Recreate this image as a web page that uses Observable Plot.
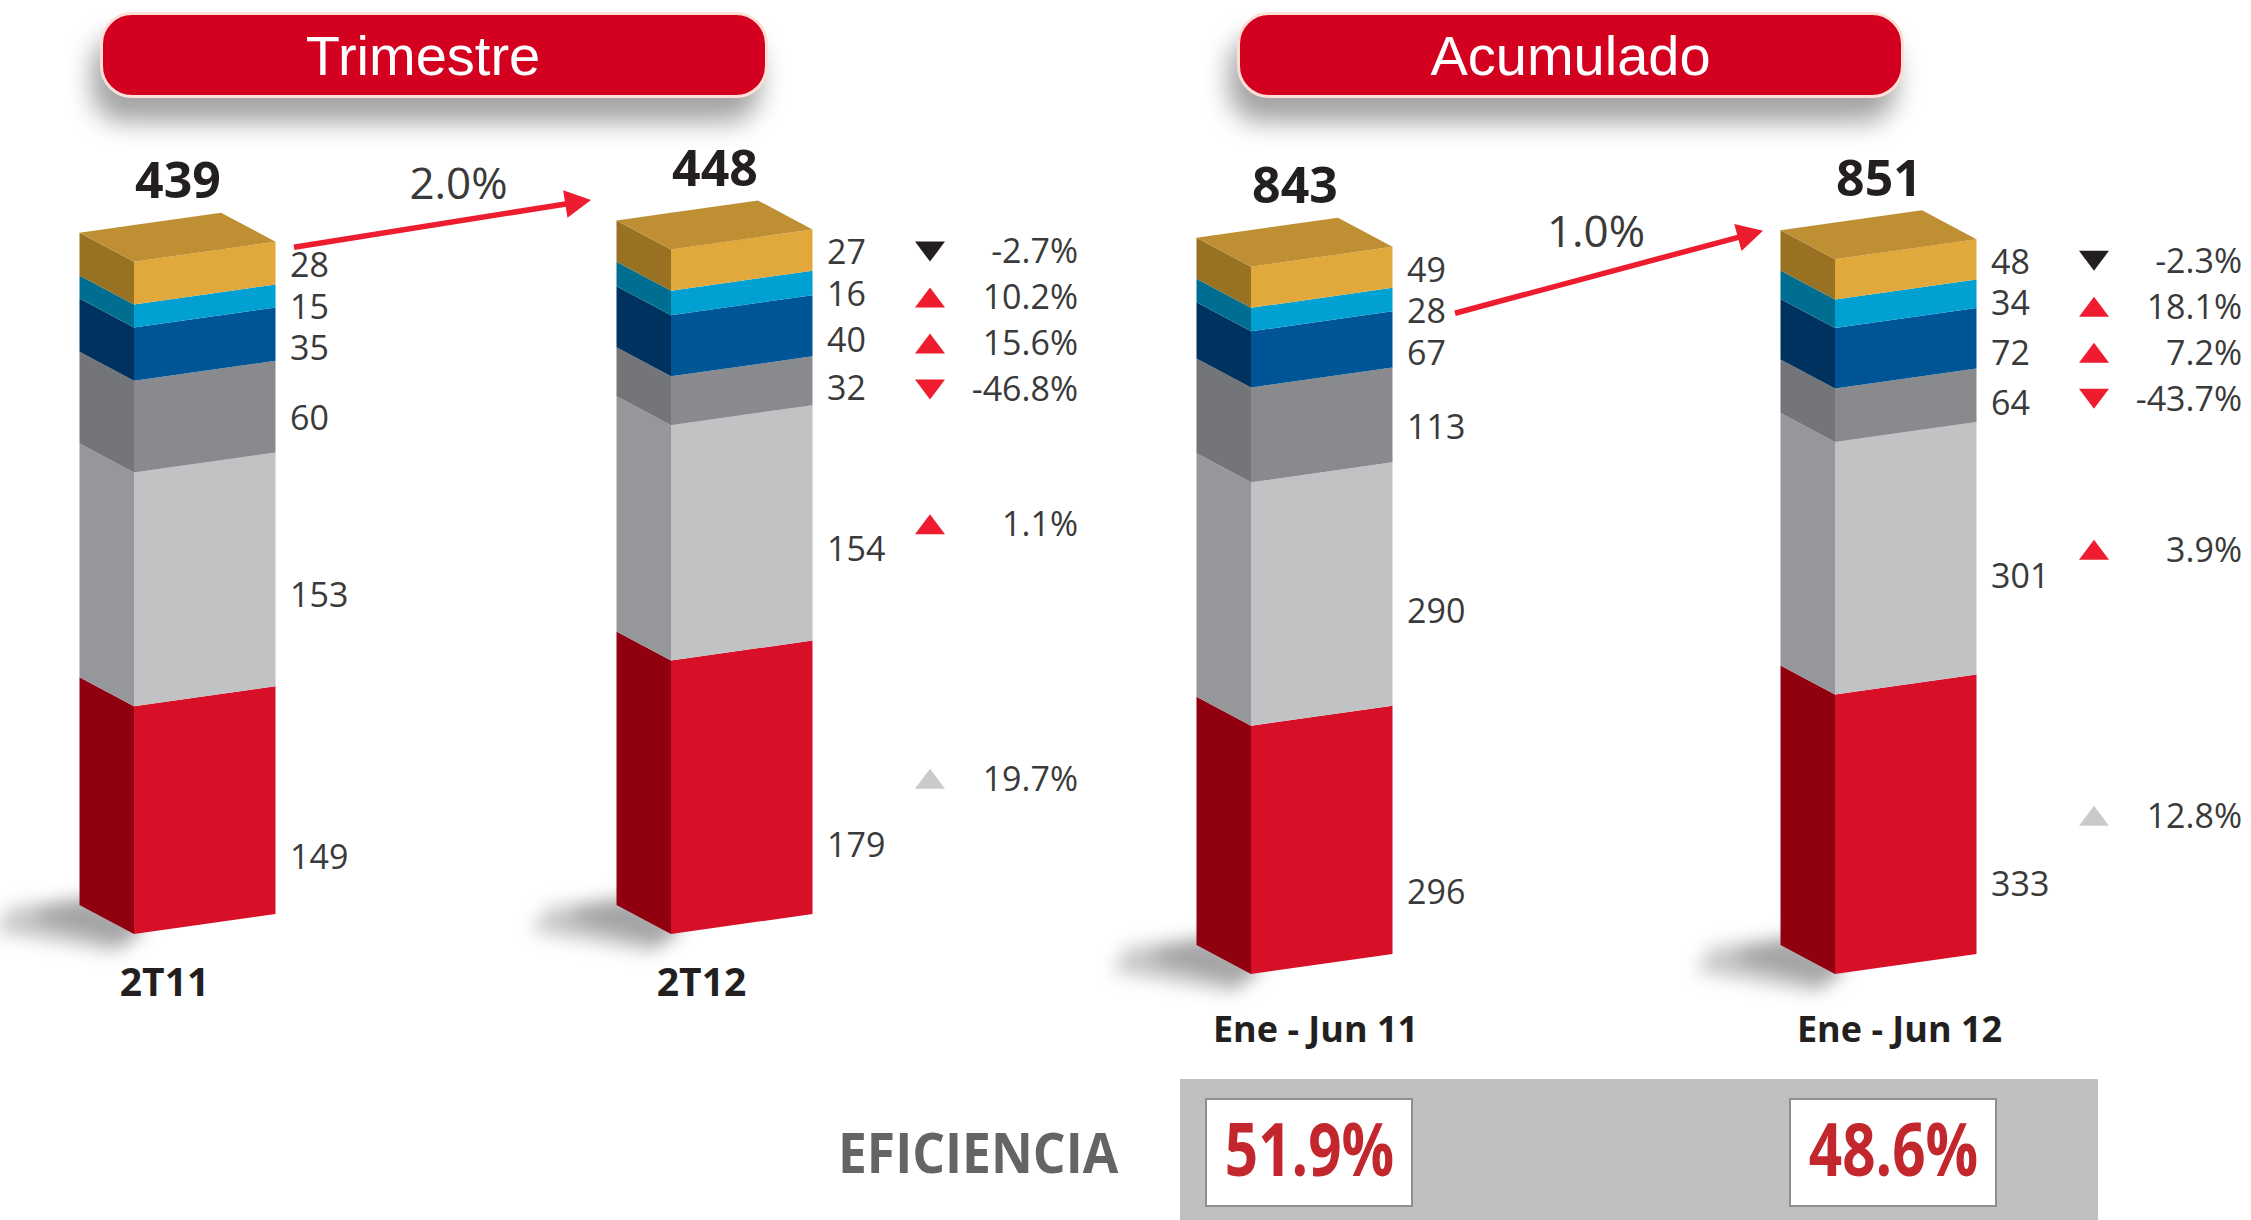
<!DOCTYPE html>
<html>
<head>
<meta charset="utf-8">
<script src="https://cdn.jsdelivr.net/npm/d3@7"></script>
<script src="https://cdn.jsdelivr.net/npm/@observablehq/plot@0.6"></script>
<style>
  html, body { margin: 0; padding: 0; background: #fff; }
  #page { position: relative; width: 2251px; height: 1220px; overflow: hidden; background: #fff; }
  .banner { position: absolute; top: 12px; height: 86px; border-radius: 32px; background: #D40020;
            border: 3px solid #fbe0d8; box-shadow: -8px 24px 26px rgba(0,0,0,0.36);
            color: #fff; font-family: "Liberation Sans", Arial, sans-serif; font-size: 56px;
            display: flex; align-items: center; justify-content: center; box-sizing: border-box; }
  #efLabel { position: absolute; left: 838px; top: 1116px; font-family: "Open Sans", sans-serif;
             font-weight: 700; font-size: 56px; line-height: 70px; color: #636466;
             transform: scaleX(0.92); transform-origin: left center; }
  .plotwrap { position: absolute; left: 0; top: 0; width: 2251px; height: 1220px; }
</style>
</head>
<body>
<div id="page">
  <div class="banner" style="left:100px; width:668px; padding-right:22px;">Trimestre</div>
  <div class="banner" style="left:1237px; width:667px;">Acumulado</div>
  <div id="efLabel">EFICIENCIA</div>
  <div id="plotA" class="plotwrap"></div>
  <div id="plotB" class="plotwrap"></div>
</div>
<script>
// ---------------- DATA (segments listed bottom → top) ----------------
const periodsQ   = ["2T11", "2T12"];
const values2T11 = [149, 153, 60, 35, 15, 28];
const values2T12 = [179, 154, 32, 40, 16, 27];
const totalsQ    = [439, 448];
const changeQ    = [19.7, 1.1, -46.8, 15.6, 10.2, -2.7];
const growthQ    = 2.0;

const periodsA    = ["Ene - Jun 11", "Ene - Jun 12"];
const valuesJun11 = [296, 290, 113, 67, 28, 49];
const valuesJun12 = [333, 301, 64, 72, 34, 48];
const totalsA     = [843, 851];
const changeA     = [12.8, 3.9, -43.7, 7.2, 18.1, -2.3];
const growthA     = 1.0;

const eficiencia = [51.9, 48.6];

// ---------------- STYLES ----------------
const FRONT = ["#D71028", "#C1C2C4", "#898A8D", "#005596", "#00A0D2", "#E1A83C"];
const SIDE  = ["#91000F", "#96979B", "#747578", "#00325F", "#006E91", "#987122"];
const TOP   = ["#B00A20", "#D5D6D8", "#A0A1A4", "#1A6AA8", "#3BB4DD", "#BF9033"];
const TRI   = ["#C9CACC", "#EE1C2E", "#EE1C2E", "#EE1C2E", "#EE1C2E", "#231F20"];
const LABEL_FRAC = [0.26, 0.4, 0.4, 0.3, 0.3, 0.5];   // where a value label sits inside its segment
const ARROW = "#ED1C2E";
const SHADOW = "#555556";
const EFF_RED = "#C1272D";
const GEO = {front: 141.5, side: 54.5, dSide: 29, dFront: 20}; // px of the 3D box
const FONT = "Open Sans";

const UP   = {draw(ctx) { ctx.moveTo(0, -10); ctx.lineTo(15, 10); ctx.lineTo(-15, 10); ctx.closePath(); }};
const DOWN = {draw(ctx) { ctx.moveTo(0, 10); ctx.lineTo(15, -10); ctx.lineTo(-15, -10); ctx.closePath(); }};

function render(cfg) {
  const {periods, series, totals, change, growth, eff, L} = cfg;
  const spanPx = L.xr[1] - L.xr[0];
  const ux = px => px / spanPx, uy = px => px / L.ppu;
  const yOfPx = px => (L.base - px) / L.ppu;
  const W = ux(GEO.front), S = ux(GEO.side), dS = uy(GEO.dSide), dF = uy(GEO.dFront);

  const faces = [], tops = [], shadows = [], vLabels = [], totLabels = [], catLabels = [], cums = [];
  series.forEach((vals, i) => {
    const xs0 = i - S, xf0 = i, xf1 = i + W;
    const c = []; let cum = 0;
    vals.forEach((v, j) => {
      const b = cum, t = cum + v; cum = t; c.push(b);
      faces.push({k: `s${i}-${j}`, x: xs0, y1: b + dS, y2: t + dS, fill: SIDE[j]},
                 {k: `s${i}-${j}`, x: xf0, y1: b, y2: t, fill: SIDE[j]},
                 {k: `f${i}-${j}`, x: xf0, y1: b, y2: t, fill: FRONT[j]},
                 {k: `f${i}-${j}`, x: xf1, y1: b + dF, y2: t + dF, fill: FRONT[j]});
    });
    cums.push(c);
    const T = cum, tf = TOP[vals.length - 1];
    tops.push({k: `t${i}`, x: xs0, y1: T + dS, y2: T + dS, fill: tf},
              {k: `t${i}`, x: xf0, y1: T, y2: T + dS + dF * S / W, fill: tf},
              {k: `t${i}`, x: xs0 + W, y1: T + dF * (W - S) / W, y2: T + dS + dF, fill: tf},
              {k: `t${i}`, x: xf1, y1: T + dF, y2: T + dF, fill: tf});
    // two nested soft shadow layers (outer faint, inner darker)
    [[1.0, "o"], [0.55, "i"]].forEach(([s, tag]) => {
      shadows.push({k: `sh${i}${tag}`, x: xs0 + ux(8), y: dS + uy(8)},
                   {k: `sh${i}${tag}`, x: xf0 + ux(12), y: uy(8)},
                   {k: `sh${i}${tag}`, x: xf0 - ux(18 * s), y: -uy(18 * s)},
                   {k: `sh${i}${tag}`, x: xs0 - ux(85 * s), y: dS - uy(26 * s)},
                   {k: `sh${i}${tag}`, x: xs0 - ux(70 * s), y: dS - uy(2)});
    });
    let prev = Infinity;
    for (let j = vals.length - 1; j >= 0; j--) {
      const b = c[j], v = vals[j];
      const anchor = b + LABEL_FRAC[j] * v + dF;
      const y = Math.min(anchor, prev - uy(41.5));
      prev = y;
      vLabels.push({x: xf1 + ux(14), y, text: String(v)});
    }
    totLabels.push({x: i + (W - S) / 2, y: T + dS + dF + uy(15), text: String(totals[i])});
    catLabels.push({x: i + ux(L.catDx), y: 0, text: periods[i]});
  });

  // change column (rows follow the later bar's segments)
  const later = series[1], cl = cums[1], rows = [];
  let prev = Infinity;
  for (let j = later.length - 1; j >= 0; j--) {
    const y = Math.min(cl[j] + later[j] / 2 + dF, prev - uy(46)); prev = y;
    rows.push({tx: 1 + W + ux(117), lx: 1 + W + ux(265), y, v: change[j], fill: TRI[j]});
  }

  // growth arrow between the two bar tops
  const T0 = d3.sum(series[0]), T1 = d3.sum(series[1]);
  const sx = W + ux(L.arrow.sx), sy = T0 + dF - uy(L.arrow.sy);
  const ex = 1 - S + ux(L.arrow.ex), ey = T1 + dS - uy(L.arrow.ey);
  const dxp = (ex - sx) * spanPx, dyp = -(ey - sy) * L.ppu;
  const len = Math.hypot(dxp, dyp), cx = dxp / len, cy = dyp / len;
  const HL = 26, HW = 14;
  const pt = (px, py) => ({x: ex + ux(px), y: ey - uy(py)});
  const head = [pt(0, 0), pt(-HL * cx - HW * cy, -HL * cy + HW * cx), pt(-HL * cx + HW * cy, -HL * cy - HW * cx)]
    .map(p => ({...p, k: "head"}));
  const link = [{x1: sx, y1: sy, x2: ex - ux(HL * 0.8 * cx), y2: ey + uy(HL * 0.8 * cy)}];
  const growthLabel = [{x: (sx + ex) / 2 + ux(L.arrow.ldx), y: (sy + ey) / 2 + uy(25), text: growth.toFixed(1) + "%"}];

  const marks = [];
  if (eff) {
    marks.push(Plot.rect([{x1: ux(1180 - L.xr[0]), x2: ux(2098 - L.xr[0]), y1: yOfPx(1079), y2: yOfPx(1225)}],
      {x1: "x1", x2: "x2", y1: "y1", y2: "y2", fill: "#BEBFC1"}));
    marks.push(Plot.rect(eff.map((v, i) => ({x1: i + ux(58 - 103), x2: i + ux(58 + 103), y1: yOfPx(1099), y2: yOfPx(1206)})),
      {x1: "x1", x2: "x2", y1: "y1", y2: "y2", fill: "#ffffff", stroke: "#8e8f92", strokeWidth: 2}));
    marks.push(Plot.text(eff, {x: (d, i) => i + ux(58), y: () => yOfPx(1152), text: d => d.toFixed(1) + "%",
      fontSize: 73, fontWeight: "bold", fontFamily: FONT, fill: EFF_RED, lineAnchor: "middle"}));
  }
  marks.push(
    Plot.line(shadows, {x: "x", y: "y", z: "k", fill: SHADOW, fillOpacity: 0.32, stroke: "none", curve: "linear-closed"}),
    Plot.area(faces, {x1: "x", y1: "y1", y2: "y2", z: "k", fill: "fill", curve: "linear"}),
    Plot.area(tops, {x1: "x", y1: "y1", y2: "y2", z: "k", fill: "fill", curve: "linear"}),
    Plot.text(vLabels, {x: "x", y: "y", text: "text", dy: 3, textAnchor: "start", lineAnchor: "middle", fontSize: 34, fontFamily: FONT, fill: "#3a3a3a"}),
    Plot.text(totLabels, {x: "x", y: "y", text: "text", textAnchor: "middle", lineAnchor: "bottom", fontSize: 50, fontWeight: "bold", fontFamily: FONT, fill: "#231f20"}),
    Plot.text(catLabels, {x: "x", y: "y", text: "text", dy: L.catDy, textAnchor: "middle", lineAnchor: "middle", fontSize: L.catSize, fontWeight: "bold", fontFamily: FONT, fill: "#231f20"}),
    Plot.link(link, {x1: "x1", y1: "y1", x2: "x2", y2: "y2", stroke: ARROW, strokeWidth: 5.5}),
    Plot.line(head, {x: "x", y: "y", z: "k", fill: ARROW, stroke: "none", curve: "linear-closed"}),
    Plot.text(growthLabel, {x: "x", y: "y", text: "text", textAnchor: "middle", lineAnchor: "bottom", fontSize: 44, fontFamily: FONT, fill: "#3a3a3a"}),
    Plot.dot(rows.filter(r => r.v >= 0), {x: "tx", y: "y", dy: 1, symbol: UP, fill: "fill", r: 10}),
    Plot.dot(rows.filter(r => r.v < 0), {x: "tx", y: "y", dy: 1, symbol: DOWN, fill: "fill", r: 10}),
    Plot.text(rows, {x: "lx", y: "y", text: d => d.v.toFixed(1) + "%", dy: 2, textAnchor: "end", lineAnchor: "middle", fontSize: 34, fontFamily: FONT, fill: "#3a3a3a"})
  );

  const svg = Plot.plot({
    width: 2251, height: 1220,
    x: {type: "linear", domain: [0, 1], range: L.xr, axis: null},
    y: {type: "linear", domain: [0, 1000], range: [L.base, L.base - 1000 * L.ppu], axis: null},
    color: {type: "identity"},
    style: {background: "transparent", overflow: "visible"},
    marks
  });
  // soft drop shadows under the boxes
  svg.querySelectorAll(`g[fill="${SHADOW}"]`).forEach(g => { g.style.filter = "blur(9px)"; });
  // condense the efficiency figures horizontally (bold condensed look)
  if (eff) {
    const effTexts = new Set(eff.map(d => d.toFixed(1) + "%"));
    svg.querySelectorAll("text").forEach(t => {
      if (!effTexts.has(t.textContent)) return;
      const tr = t.getAttribute("transform") || "";
      const x = +(t.getAttribute("x") || 0);
      t.setAttribute("transform", `${tr} translate(${x},0) scale(0.8,1) translate(${-x},0)`);
    });
  }
  return svg;
}

document.getElementById("plotA").append(render({
  periods: periodsQ, series: [values2T11, values2T12], totals: totalsQ, change: changeQ, growth: growthQ,
  L: {xr: [134, 671], base: 934, ppu: 1.528, catDx: 30, catDy: 49, catSize: 39,
      arrow: {sx: 18, sy: 5, ex: -26, ey: -21, ldx: 16}}
}));
document.getElementById("plotB").append(render({
  periods: periodsA, series: [valuesJun11, valuesJun12], totals: totalsA, change: changeA, growth: growthA, eff: eficiencia,
  L: {xr: [1251, 1835], base: 974, ppu: 0.839, catDx: 64, catDy: 56, catSize: 36,
      arrow: {sx: 62, sy: 66, ex: -18, ey: 0, ldx: -13}}
}));
</script>
</body>
</html>
